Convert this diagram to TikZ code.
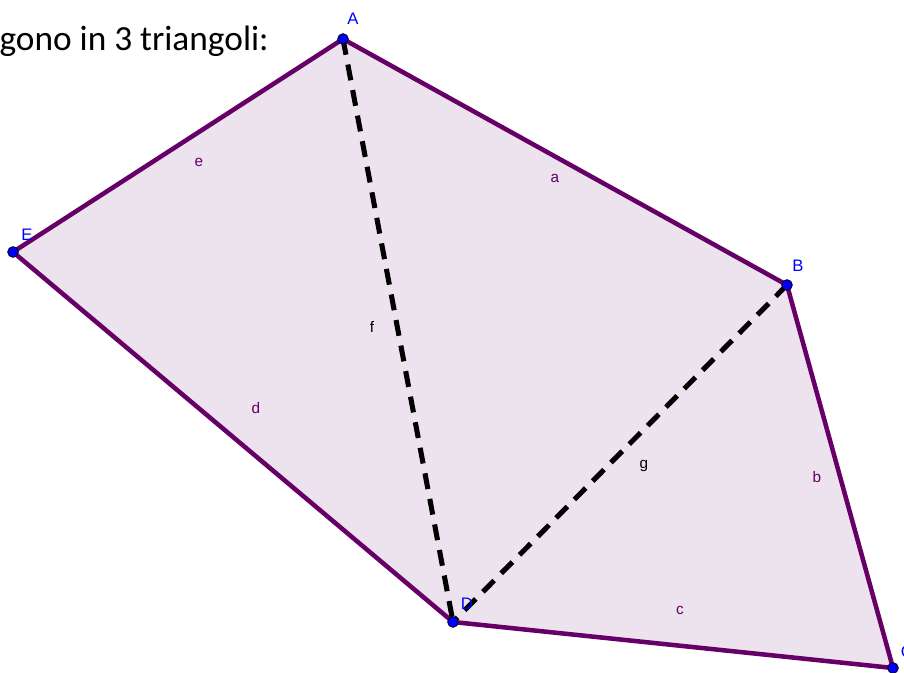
\documentclass[tikz,border=0pt]{standalone}
\usepackage{fontspec}
\setmainfont{Liberation Sans}
\newfontfamily\calib{Carlito}
\definecolor{polyfill}{RGB}{237,227,238}
\definecolor{polyedge}{RGB}{102,0,102}
\definecolor{ptblue}{RGB}{0,0,255}
\tikzset{
  edge/.style={draw=polyedge,line width=3.4pt,line join=round,line cap=round},
  diag/.style={draw=black,line width=3.8pt,dash pattern=on 12pt off 7.5pt},
  vpt/.style={circle,fill=ptblue,draw=black,line width=0.6pt,inner sep=0pt,minimum size=8pt},
  vlab/.style={text=ptblue,font=\fontsize{12.5}{14}\selectfont,inner sep=0pt},
  elab/.style={text=polyedge,font=\fontsize{11.5}{13}\selectfont,inner sep=0pt},
  dlab/.style={text=black,font=\fontsize{11.5}{13}\selectfont,inner sep=0pt}
}
\begin{document}
\begin{tikzpicture}[x=0.75pt,y=-0.75pt]
\useasboundingbox (0,0) rectangle (904,673);
\begin{scope}
\clip (0,0) rectangle (904,673);
\coordinate (A) at (343,39);
\coordinate (B) at (787,285);
\coordinate (C) at (893,668);
\coordinate (D) at (453,622);
\coordinate (E) at (13,252);
\fill[polyfill] (A) -- (B) -- (C) -- (D) -- (E) -- cycle;
\draw[diag] (A) -- (D);
\draw[diag] (B) -- (D);
\draw[edge] (A) -- (B) -- (C) -- (D) -- (E) -- cycle;
\node[vpt] (pA) at (A) {};
\node[vpt] (pB) at (B) {};
\node[vpt] (pC) at (C) {};
\node[vpt] (pD) at (D) {};
\node[vpt] (pE) at (E) {};
\node[vlab] (lA) at (353,19) {A};
\node[vlab] (lB) at (798,266) {B};
\node[vlab] (lC) at (907,652) {C};
\node[vlab] (lD) at (467,604) {D};
\node[vlab] (lE) at (27,235) {E};
\node[elab] (la) at (555,178) {a};
\node[elab] (lb) at (817,477) {b};
\node[elab] (lc) at (680,610) {c};
\node[elab] (ld) at (256,408) {d};
\node[elab] (le) at (199,162) {e};
\node[dlab] (lf) at (372,327) {f};
\node[dlab] (lg) at (644,466) {g};
\node[anchor=base east,inner sep=0pt,font=\calib\fontsize{26.5}{30}\selectfont] (title) at (269,51) {gono in 3 triangoli:};
\end{scope}
\end{tikzpicture}
\end{document}
